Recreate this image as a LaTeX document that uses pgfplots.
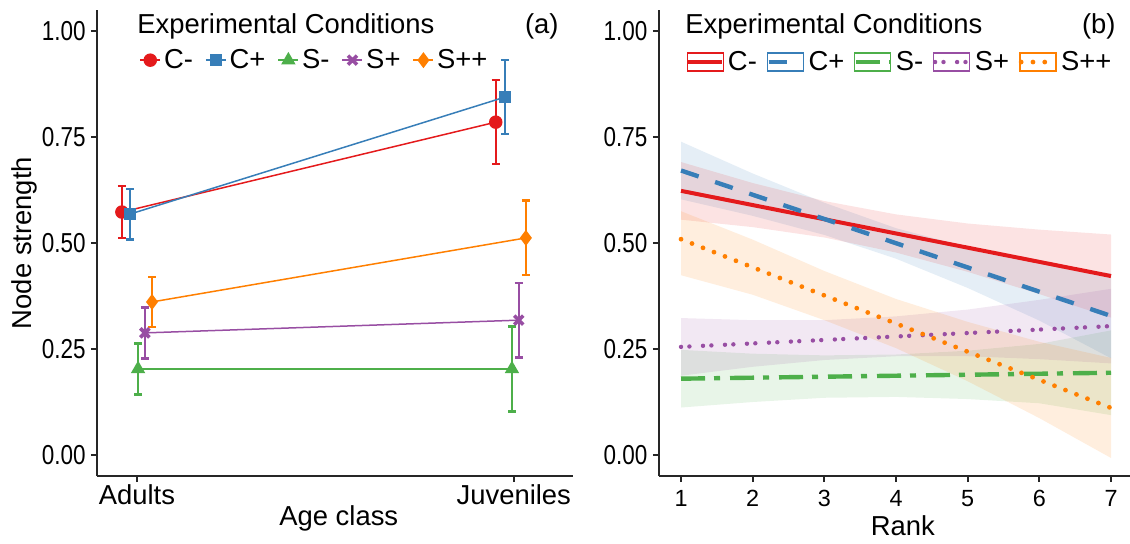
\documentclass[border=0pt]{standalone}
\usepackage{fontspec}
\setmainfont{Liberation Sans}
\usepackage{graphicx}
\usepackage{pgfplots}
\pgfplotsset{compat=1.18}

\definecolor{cr}{HTML}{E41A1C}
\definecolor{cb}{HTML}{377EB8}
\definecolor{cg}{HTML}{4DAF4A}
\definecolor{cp}{HTML}{984EA3}
\definecolor{co}{HTML}{FF7F00}
\newcommand{\fs}{\fontsize{13.7}{16}\selectfont}
\newcommand{\fst}{\fontsize{11.7}{14}\selectfont}
\newcommand{\sy}[1]{\scalebox{0.82}[1]{#1}}

\pgfplotsset{
  base/.style={
    scale only axis,
    axis lines*=left,
    axis line style={line width=1pt, black!85},
    tick style={line width=0.9pt, black!85},
    tick align=outside,
    major tick length=3pt,
    ymin=-0.05, ymax=1.05,
    ytick={0,0.25,0.5,0.75,1},
    yticklabels={\sy{0.00},\sy{0.25},\sy{0.50},\sy{0.75},\sy{1.00}},
    yticklabel style={font=\fs, inner sep=2.5pt},
    legend columns=5,
    legend cell align=left,
  },
  legA/.style={legend image code/.code={\draw[mark repeat=2,mark phase=2,##1] plot coordinates {(0pt,0pt) (5pt,0pt) (10pt,0pt)};}},
  boxleg/.style={legend image code/.code={\draw[##1,solid,line width=0.6pt,fill=white] (0pt,-4.5pt) rectangle (18pt,4.5pt); \draw[##1] (0.6pt,0pt) -- (17.4pt,0pt);}},
  ebar/.style={error bars/.cd, y dir=both, y explicit,
    error bar style={line width=1.2pt},
    error mark options={line width=1.2pt, mark size=2pt, rotate=90}},
}

\begin{document}
\begin{tikzpicture}
\useasboundingbox (0,0) rectangle (565pt,271.5pt);

% ---------------- panel (a)
\begin{axis}[base, legA,
  at={(48.5pt,33.4pt)}, anchor=south west,
  width=238pt, height=233.2pt,
  xmin=0.894, xmax=2.157,
  xtick={1,2}, xticklabels={Adults,Juveniles},
  xticklabel style={font=\fs, inner sep=1pt},
  xlabel={Age class},
  xlabel style={at={(axis description cs:0.508,-0.0904)}, anchor=center, font=\fs},
  ylabel={Node strength},
  ylabel style={at={(axis description cs:-0.153,0.5)}, anchor=center, font=\fs},
  legend style={at={(axis description cs:0.0885,0.892)}, anchor=west, draw=none, fill=none,
    font=\fs, inner sep=0pt, nodes={inner sep=1.5pt},
    /tikz/every even column/.append style={column sep=4.6pt}},
]
\addplot[cr, line width=0.75pt, mark=*, mark size=3pt, ebar]
  coordinates {(0.960,0.573) +- (0,0.061) (1.952,0.785) +- (0,0.099)};
\addlegendentry{C-}
\addplot[cb, line width=0.75pt, mark=square*, mark size=2.7pt, ebar]
  coordinates {(0.981,0.568) +- (0,0.060) (1.976,0.844) +- (0,0.087)};
\addlegendentry{C+}
\addplot[cg, line width=0.75pt, mark=triangle*, mark size=3.4pt, ebar]
  coordinates {(1.003,0.203) +- (0,0.060) (1.995,0.203) +- (0,0.100)};
\addlegendentry{S-}
\addplot[cp, line width=0.75pt, mark=x, mark size=3.2pt, mark options={line width=1.8pt}, ebar]
  coordinates {(1.021,0.288) +- (0,0.060) (2.013,0.318) +- (0,0.088)};
\addlegendentry{S+}
\addplot[co, line width=0.75pt, mark=diamond*, mark size=3.4pt, ebar]
  coordinates {(1.040,0.361) +- (0,0.059) (2.032,0.512) +- (0,0.088)};
\addlegendentry{S++}
\end{axis}

% ---------------- panel (b)
\begin{axis}[base,
  at={(329.4pt,33.4pt)}, anchor=south west,
  width=235.6pt, height=233.2pt,
  xmin=0.69, xmax=7.265,
  xtick={1,2,3,4,5,6,7}, xticklabels={1,2,3,4,5,6,7},
  xticklabel style={font=\fst, inner sep=4pt},
  xlabel={Rank},
  xlabel style={at={(axis description cs:0.518,-0.107)}, anchor=center, font=\fs},
  legend style={at={(axis description cs:0.0577,0.888)}, anchor=west, draw=none, fill=none,
    font=\fs, inner sep=0pt, nodes={inner sep=1.2pt},
    /tikz/every even column/.append style={column sep=3.6pt},
    /tikz/every odd column/.append style={column sep=0.8pt}},
]
% ribbons
\addplot[fill=cb, fill opacity=0.13, draw=none, forget plot] coordinates {
 (1,0.739) (2,0.664) (3,0.595) (4,0.535) (5,0.490) (6,0.453) (7,0.428)
 (7,0.228) (6,0.317) (5,0.394) (4,0.463) (3,0.519) (2,0.564) (1,0.603)} -- cycle;
\addplot[fill=cr, fill opacity=0.12, draw=none, forget plot] coordinates {
 (1,0.691) (2,0.6415) (3,0.599) (4,0.5675) (5,0.546) (6,0.5315) (7,0.520)
 (7,0.324) (6,0.3795) (5,0.432) (4,0.4775) (3,0.513) (2,0.5375) (1,0.555)} -- cycle;
\addplot[fill=cg, fill opacity=0.13, draw=none, forget plot] coordinates {
 (1,0.248) (2,0.239) (3,0.235) (4,0.237) (5,0.246) (6,0.262) (7,0.294)
 (7,0.094) (6,0.122) (5,0.132) (4,0.137) (3,0.135) (2,0.125) (1,0.112)} -- cycle;
\addplot[fill=cp, fill opacity=0.13, draw=none, forget plot] coordinates {
 (1,0.323) (2,0.318) (3,0.318) (4,0.327) (5,0.343) (6,0.366) (7,0.392)
 (7,0.216) (6,0.226) (5,0.233) (4,0.233) (3,0.224) (2,0.208) (1,0.187)} -- cycle;
\addplot[fill=co, fill opacity=0.13, draw=none, forget plot] coordinates {
 (1,0.575) (2,0.508) (3,0.434) (4,0.368) (5,0.314) (6,0.267) (7,0.229)
 (7,-0.007) (6,0.087) (5,0.174) (4,0.252) (3,0.318) (2,0.378) (1,0.424)} -- cycle;
% lines
\addplot[cr, line width=2pt, boxleg] coordinates {(1,0.623) (7,0.422)};
\addlegendentry{C-}
\addplot[cb, line width=2.2pt, dash pattern=on 9.3pt off 8.7pt, boxleg] coordinates {(1,0.671) (7,0.328)};
\addlegendentry{C+}
\addplot[cg, line width=2.2pt, dash pattern=on 12pt off 4.5pt on 3pt off 5pt, boxleg] coordinates {(1,0.180) (7,0.194)};
\addlegendentry{S-}
\addplot[cp, line width=2.2pt, line cap=round, dash pattern=on 0pt off 4.2pt on 0pt off 6.8pt, boxleg] coordinates {(1,0.255) (7,0.304)};
\addlegendentry{S+}
\addplot[co, line width=2.4pt, line cap=round, dash pattern=on 0pt off 5.9pt, boxleg] coordinates {(1,0.509) (7,0.111)};
\addlegendentry{S++}
\end{axis}

% titles
\node[anchor=base west, inner sep=0pt, font=\fs] at (68.5pt,255pt) {Experimental Conditions};
\node[anchor=base east, inner sep=0pt, font=\fs] at (279.5pt,255pt) {(a)};
\node[anchor=base west, inner sep=0pt, font=\fs] at (342.5pt,255pt) {Experimental Conditions};
\node[anchor=base east, inner sep=0pt, font=\fs] at (558pt,255pt) {(b)};
\end{tikzpicture}
\end{document}
